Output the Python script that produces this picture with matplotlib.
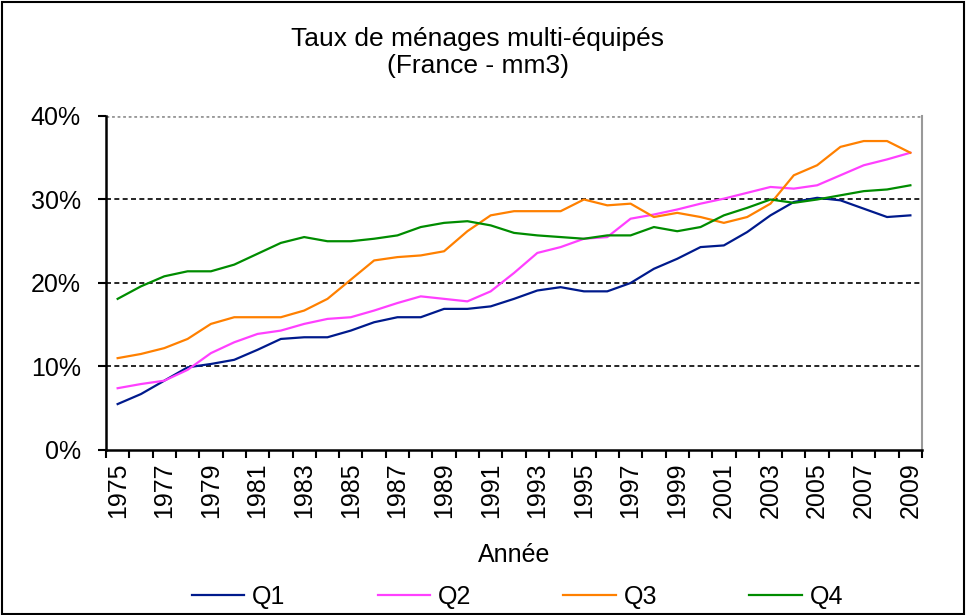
import numpy as np
import matplotlib.pyplot as plt
from matplotlib.patches import Rectangle

plt.rcParams['font.family'] = ['Liberation Sans', 'DejaVu Sans']

years = list(range(1975, 2010))
q1 = [5.5, 6.7, 8.3, 9.9, 10.3, 10.8, 12.0, 13.3, 13.5, 13.5, 14.3, 15.3,
      15.9, 15.9, 16.9, 16.9, 17.2, 18.1, 19.1, 19.5, 19.0, 19.0, 20.0, 21.7,
      22.9, 24.3, 24.5, 26.1, 28.1, 29.7, 30.2, 29.9, 28.9, 27.9, 28.1]
q2 = [7.4, 7.9, 8.3, 9.6, 11.6, 12.9, 13.9, 14.3, 15.1, 15.7, 15.9, 16.7,
      17.6, 18.4, 18.1, 17.8, 19.0, 21.2, 23.6, 24.3, 25.3, 25.5, 27.7, 28.2,
      28.8, 29.5, 30.1, 30.8, 31.5, 31.3, 31.7, 32.9, 34.1, 34.8, 35.6]
q3 = [11.0, 11.5, 12.2, 13.3, 15.1, 15.9, 15.9, 15.9, 16.7, 18.1, 20.4, 22.7,
      23.1, 23.3, 23.8, 26.2, 28.1, 28.6, 28.6, 28.6, 30.0, 29.3, 29.5, 27.9,
      28.4, 27.9, 27.2, 27.9, 29.5, 32.9, 34.1, 36.3, 37.0, 37.0, 35.6]
q4 = [18.1, 19.6, 20.8, 21.4, 21.4, 22.2, 23.5, 24.8, 25.5, 25.0, 25.0, 25.3,
      25.7, 26.7, 27.2, 27.4, 26.9, 26.0, 25.7, 25.5, 25.3, 25.7, 25.7, 26.7,
      26.2, 26.7, 28.1, 29.0, 30.0, 29.6, 30.0, 30.5, 31.0, 31.2, 31.7]
series = {'Q1': q1, 'Q2': q2, 'Q3': q3, 'Q4': q4}
colors = {'Q1': '#001a8c', 'Q2': '#ff40ff', 'Q3': '#ff8000', 'Q4': '#008c00'}

fs = 18

fig = plt.figure(figsize=(9.67, 6.15), dpi=100)
ax = fig.add_axes([0.1096, 0.2683, 0.8439, 0.5431])

x = np.arange(len(years))
for name, vals in series.items():
    ax.plot(x, vals, color=colors[name], lw=1.6, label=name)

ax.set_xlim(-0.5, len(years) - 0.5)
ax.set_ylim(0, 40)
ax.set_yticks([0, 10, 20, 30, 40])
ax.set_yticklabels(['0%', '10%', '20%', '30%', '40%'], fontsize=fs)
for v in [10, 20, 30]:
    ax.axhline(v, color='black', ls=(0, (3, 2)), lw=1.2, zorder=0)
ax.axhline(40, color='#999999', ls=(0, (1, 1)), lw=2, zorder=0)

ax.set_xticks(x[::2])
ax.set_xticklabels([str(y) for y in years[::2]], rotation=90, fontsize=fs)
ax.set_xticks(np.arange(-0.5, len(years)), minor=True)
ax.tick_params(axis='x', which='major', length=0, pad=9)
ax.tick_params(axis='x', which='minor', length=6, width=1.5, direction='out')
ax.tick_params(axis='y', length=6, width=1.5, direction='out', pad=12)

ax.spines['left'].set_linewidth(1.8)
ax.spines['bottom'].set_linewidth(1.8)
ax.spines['top'].set_visible(False)
ax.spines['right'].set_color('#999999')
ax.spines['right'].set_linewidth(1.5)

ax.set_xlabel('Année', fontsize=fs, labelpad=18)
fig.text(0.494, 0.914, 'Taux de ménages multi-équipés\n(France - mm3)',
         ha='center', va='center', fontsize=19, linespacing=1.15)

fig.legend(loc='center', bbox_to_anchor=(0.535, 0.029), ncol=4, frameon=False,
           fontsize=fs, columnspacing=3.7, handlelength=2.1,
           handletextpad=0.3, borderpad=0.2)

fig.patches.append(Rectangle((0.002, 0.002), 0.995, 0.994, transform=fig.transFigure,
                             fill=False, edgecolor='black', lw=1.5))

fig.savefig('out.png', dpi=100)
